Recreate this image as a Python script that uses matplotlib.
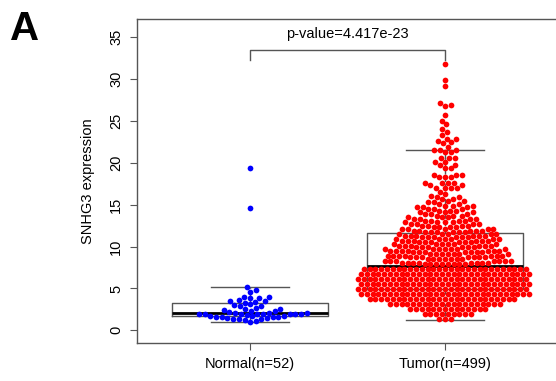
import numpy as np
import matplotlib.pyplot as plt

plt.rcParams['font.family'] = ['Liberation Sans', 'DejaVu Sans']

group_labels = ['Normal(n=52)', 'Tumor(n=499)']
y_ticks = [0, 5, 10, 15, 20, 25, 30, 35]
p_label = 'p-value=4.417e-23'

normal_values = [19.35, 14.6, 5.2, 4.8, 4.6, 4.0, 3.95, 3.9, 3.85, 3.6, 3.5, 3.45, 3.4,
                 3.3, 3.1, 3.0, 2.95, 2.85, 2.7, 2.6, 2.5, 2.4, 2.35, 2.25, 2.2, 2.12,
                 2.05, 2.02, 2.0, 1.98, 1.97, 1.96, 1.95, 1.93, 1.92, 1.9, 1.88,
                 1.7, 1.65, 1.65, 1.6, 1.6, 1.55, 1.55, 1.5, 1.45, 1.4, 1.35, 1.3,
                 1.2, 1.1, 1.0]

# tumor points: value level and number of points at it
tumor_levels = [1.3, 1.9, 2.5, 3.1, 3.7, 4.3, 4.9, 5.5, 6.1, 6.7, 7.3,
                7.9, 8.1, 8.3, 8.5, 8.7, 8.9, 9.1, 9.3, 9.5, 9.7, 9.9, 10.1, 10.3,
                10.5, 10.7, 10.9, 11.1, 11.3, 11.5,
                11.7, 11.9, 12.1, 12.3, 12.5, 12.7, 12.9, 13.1, 13.3, 13.5, 13.7,
                13.9, 14.1, 14.3, 14.5, 14.7, 14.9, 15.1, 15.3, 15.5, 15.7, 15.9,
                16.1, 16.3, 16.5,
                17.0, 17.3, 17.6, 18.3, 18.6, 19.4, 19.8, 20.1, 20.6, 21.3, 21.55,
                21.9, 22.35, 22.45, 22.6, 22.8, 22.9, 23.3, 23.7, 24.1, 24.6, 25.0,
                25.7, 26.8, 26.9, 27.1, 29.2, 29.9, 31.8]
tumor_counts = [3, 9, 14, 20, 26, 30, 30, 30, 30, 30, 29,
                8, 8, 7, 7, 7, 7, 7, 7, 7, 7, 6, 6, 6,
                6, 6, 6, 6, 6, 5,
                6, 5, 5, 4, 4, 4, 4, 4, 4, 3, 3,
                3, 3, 3, 3, 3, 3, 2, 2, 2, 2, 2,
                1, 1, 1,
                4, 2, 4, 3, 3, 2, 2, 2, 3, 2, 3,
                1, 1, 1, 1, 1, 1, 1, 1, 1, 1, 1,
                1, 1, 1, 1, 1, 1, 1]

# whislo, q1, median, q3, whishi
normal_box = [1.0, 1.7, 2.07, 3.3, 5.2]
tumor_box = [1.27, 4.93, 7.65, 11.6, 21.6]

tumor_values = np.repeat(tumor_levels, tumor_counts)


def swarm_x(ax, x0, values, diam):
    # beeswarm-like: ascending order, each point as close to the centre as it fits
    values = np.asarray(values, dtype=float)
    pts = ax.transData.transform(np.column_stack([np.full(len(values), x0), values]))
    ys = pts[:, 1]
    xscale = ax.transData.transform([[1, 0]])[0, 0] - ax.transData.transform([[0, 0]])[0, 0]
    px, py = [], []
    offs = np.zeros(len(values))
    for i in np.argsort(values, kind='stable'):
        y = ys[i]
        PX, PY = np.array(px), np.array(py)
        if len(px):
            near = np.abs(PY - y) < diam
            NX, NY = PX[near], PY[near]
        else:
            NX, NY = np.array([]), np.array([])
        cands = [0.0]
        if len(NX):
            dx = np.sqrt(diam ** 2 - (NY - y) ** 2)
            cands = np.concatenate([[0.0], NX + dx, NX - dx])
        cands = sorted(cands, key=abs)
        best = cands[0]
        for c in cands:
            if len(NX) == 0 or np.all((c - NX) ** 2 + (y - NY) ** 2 >= diam ** 2 - 1e-6):
                best = c
                break
        px.append(best)
        py.append(y)
        offs[i] = best / xscale
    return x0 + offs


fig = plt.figure(figsize=(5.56, 3.81), dpi=100)
ax = fig.add_axes([137 / 556, 38.3 / 381, 421 / 556, 323.7 / 381])
ax.set_xlim(0.42, 2.58)
ax.set_ylim(-1.48, 37.19)

grey = '#555555'
stats = []
for b in [normal_box, tumor_box]:
    stats.append(dict(whislo=b[0], q1=b[1], med=b[2], q3=b[3], whishi=b[4], fliers=[]))
ax.bxp(stats, positions=[1, 2], widths=0.8, showfliers=False,
       boxprops=dict(color=grey, lw=1),
       whiskerprops=dict(color=grey, lw=1, ls='--'),
       capprops=dict(color=grey, lw=1),
       medianprops=dict(color='black', lw=2))

xn = swarm_x(ax, 1, normal_values, 5.79)
xt = swarm_x(ax, 2, tumor_values, 5.79)
ax.scatter(xn, normal_values, s=17, c='#0000ff', linewidths=0, zorder=3)
ax.scatter(xt, tumor_values, s=17, c='#ff0000', linewidths=0, zorder=3)

# significance bracket
ax.plot([1, 1, 2, 2], [32.3, 33.5, 33.5, 32.3], color=grey, lw=1)
ax.text(1.5, 34.9, p_label, ha='center', va='baseline', fontsize=10.5)

ax.set_xticks([1, 2])
ax.set_xticklabels(group_labels, fontsize=10.5)
ax.set_yticks(y_ticks)
ax.set_yticklabels([str(t) for t in y_ticks], rotation=90, va='center', fontsize=10.5)
ax.tick_params(length=5, width=0.8, color=grey, pad=5)
ax.set_ylabel('SNHG3 expression', fontsize=10.5, labelpad=10)
for s in ax.spines.values():
    s.set_color(grey)
    s.set_linewidth(1)

fig.text(10 / 556, 1 - 40 / 381, 'A', fontsize=29, fontweight='bold', ha='left', va='baseline')

fig.savefig('out.png', dpi=100)
